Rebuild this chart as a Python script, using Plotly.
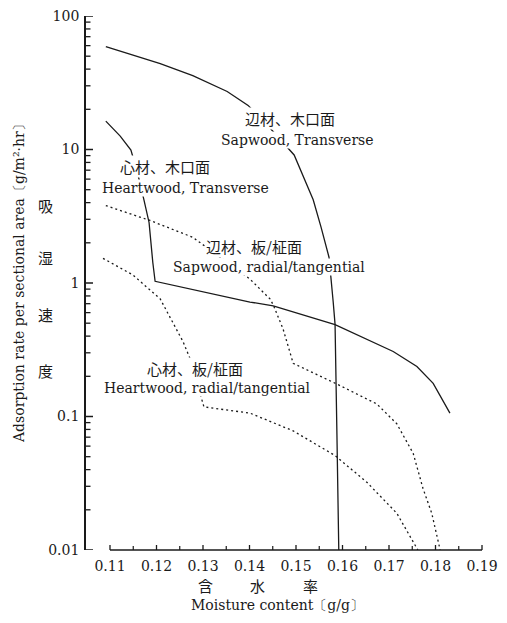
import plotly.graph_objects as go

# ---- data ----
sap_tr_x = [0.1091, 0.1208, 0.1278, 0.1311, 0.1352, 0.1397, 0.1444, 0.1496, 0.1537, 0.1554, 0.1571, 0.1580, 0.1584, 0.1588, 0.1592]
sap_tr_y = [59, 44, 35.8, 31.8, 27.2, 21.4, 14.5, 9.1, 4.2, 2.61, 1.56, 0.72, 0.49, 0.074, 0.010]

heart_tr_x = [0.1091, 0.1122, 0.1145, 0.1160, 0.1173, 0.1184, 0.1192, 0.1197, 0.1401, 0.1451, 0.1584, 0.1709, 0.1760, 0.1795, 0.1831]
heart_tr_y = [16.3, 12.6, 9.9, 6.5, 4.2, 2.84, 1.43, 1.03, 0.72, 0.675, 0.487, 0.307, 0.237, 0.177, 0.106]

sap_rt_x = [0.1091, 0.1186, 0.1278, 0.1401, 0.1444, 0.1451, 0.1472, 0.1494, 0.1588, 0.1674, 0.1717, 0.1752, 0.1773, 0.1792, 0.1810]
sap_rt_y = [3.8, 2.94, 2.2, 1.07, 0.76, 0.686, 0.455, 0.25, 0.175, 0.124, 0.088, 0.053, 0.029, 0.0188, 0.010]

heart_rt_x = [0.1085, 0.1149, 0.1208, 0.1257, 0.1272, 0.1298, 0.1302, 0.1401, 0.1494, 0.1584, 0.1653, 0.1717, 0.1762]
heart_rt_y = [1.53, 1.15, 0.76, 0.364, 0.272, 0.137, 0.118, 0.106, 0.078, 0.051, 0.032, 0.0188, 0.010]

x_ticks = [0.11, 0.12, 0.13, 0.14, 0.15, 0.16, 0.17, 0.18, 0.19]
x_ticklabels = ["0.11", "0.12", "0.13", "0.14", "0.15", "0.16", "0.17", "0.18", "0.19"]
x_minor = [0.115, 0.125, 0.135, 0.145, 0.155, 0.165, 0.175, 0.185]
y_ticks = [0.01, 0.1, 1, 10, 100]
y_ticklabels = ["0.01", "0.1", "1", "10", "100"]
y_minor = [m * d for d in [0.01, 0.1, 1, 10] for m in range(2, 10)]

labels = [
    ("辺材、木口面", "Sapwood, Transverse"),
    ("心材、木口面", "Heartwood, Transverse"),
    ("辺材、板/柾面", "Sapwood, radial/tangential"),
    ("心材、板/柾面", "Heartwood, radial/tangential"),
]
y_title = "Adsorption rate per sectional area〔g/m²·hr〕"
y_title_jp = ["吸", "湿", "速", "度"]
x_title_jp = ["含", "水", "率"]
x_title = "Moisture content〔g/g〕"

# ---- layout geometry (reference pixels; page body adds an 8px offset) ----
OFF = 8
W, H = 507 - OFF, 623 - OFF
L, R, T, B = 86, 494, 16, 550          # plot area in reference coordinates
X0, X1 = 0.10484, 0.19258
YLOG = [-2, 2]

def paper(px, py):
    return (px - L) / (R - L), (B - py) / (B - T)

SERIF = "DejaVu Serif"
CJK = "Noto Sans CJK JP"
INK = "#1a1a1a"

fig = go.Figure()
for xs, ys, dash in [(sap_tr_x, sap_tr_y, "solid"), (heart_tr_x, heart_tr_y, "solid"),
                     (sap_rt_x, sap_rt_y, "2px,3px"), (heart_rt_x, heart_rt_y, "2px,3px")]:
    fig.add_trace(go.Scatter(x=xs, y=ys, mode="lines",
                             line=dict(color=INK, width=1.3, dash=dash),
                             hoverinfo="skip"))

# inward tick marks, built from the tick arrays through the axis scales
x_per_px = (X1 - X0) / (R - L)
dec_per_px = (YLOG[1] - YLOG[0]) / (B - T)

def y_tick_marks(vals, length):
    xs, ys = [], []
    for v in vals:
        xs += [X0, X0 + length * x_per_px, None]
        ys += [v, v, None]
    return xs, ys

def x_tick_marks(vals, length):
    xs, ys = [], []
    base = 10 ** YLOG[0]
    for v in vals:
        xs += [v, v, None]
        ys += [base, base * 10 ** (length * dec_per_px), None]
    return xs, ys

for (xs, ys), w in [(y_tick_marks(y_ticks, 7), 1.5), (y_tick_marks(y_minor, 4.5), 1.3),
                    (x_tick_marks(x_ticks, 5), 1.3), (x_tick_marks(x_minor, 4), 1.2)]:
    fig.add_trace(go.Scatter(x=xs, y=ys, mode="lines", line=dict(color=INK, width=w),
                             hoverinfo="skip", connectgaps=False))

tickfont = dict(family=SERIF, size=14, color=INK)
fig.update_layout(
    xaxis=dict(range=[X0, X1], showline=False, showgrid=False, zeroline=False, automargin=False,
               tickmode="array", tickvals=x_ticks, ticktext=x_ticklabels, ticks="",
               ticklabelstandoff=6, ticklabeloverflow="allow", tickfont=tickfont),
    yaxis=dict(type="log", range=YLOG, showline=True, linecolor=INK, linewidth=1.8,
               showgrid=False, zeroline=False, automargin=False,
               tickmode="array", tickvals=y_ticks, ticktext=y_ticklabels, ticks="",
               ticklabelstandoff=2, ticklabeloverflow="allow", tickfont=tickfont),
)

# bottom axis line only spans 0.11 .. 0.19 (paper coords from the x range)
xa = (x_ticks[0] - X0) / (X1 - X0)
xb = (x_ticks[-1] - X0) / (X1 - X0)
fig.add_shape(type="line", xref="paper", yref="paper", x0=xa, x1=xb, y0=0, y1=0,
              layer="above", line=dict(color=INK, width=1.5))

ann = []
def txt(s, px, py, font, size, bg=None, angle=0):
    xp, yp = paper(px, py)
    d = dict(text=s, x=xp, y=yp, xref="paper", yref="paper", showarrow=False,
             xanchor="center", yanchor="middle", textangle=angle,
             font=dict(family=font, size=size, color=INK))
    if bg:
        d.update(bgcolor=bg, borderpad=0)
    ann.append(d)

# in-plot labels (japanese line, english line)
label_pos = [((290, 118), (297, 140)),
             ((165, 166), (185, 188)),
             ((254, 247), (269, 267)),
             ((195, 368), (207, 388))]
for (jp, en), ((jx, jy), (ex, ey)) in zip(labels, label_pos):
    txt(jp, jx, jy, CJK, 15, bg="white")
    txt(en, ex, ey, SERIF, 14, bg="white")

# axis titles
txt(y_title, 19, 280, SERIF, 14, angle=-90)
for ch, py in zip(y_title_jp, [205, 257, 315, 370]):
    txt(ch, 45, py, CJK, 15)
for ch, px in zip(x_title_jp, [205, 257, 310]):
    txt(ch, px, 585, CJK, 15)
txt(x_title, 277, 605, SERIF, 14)

fig.update_layout(width=W, height=H,
                  margin=dict(l=L - OFF, r=W - (R - OFF), t=T - OFF, b=H - (B - OFF), autoexpand=False),
                  plot_bgcolor="white", paper_bgcolor="white", showlegend=False,
                  annotations=ann)
fig.write_html("out.html")
